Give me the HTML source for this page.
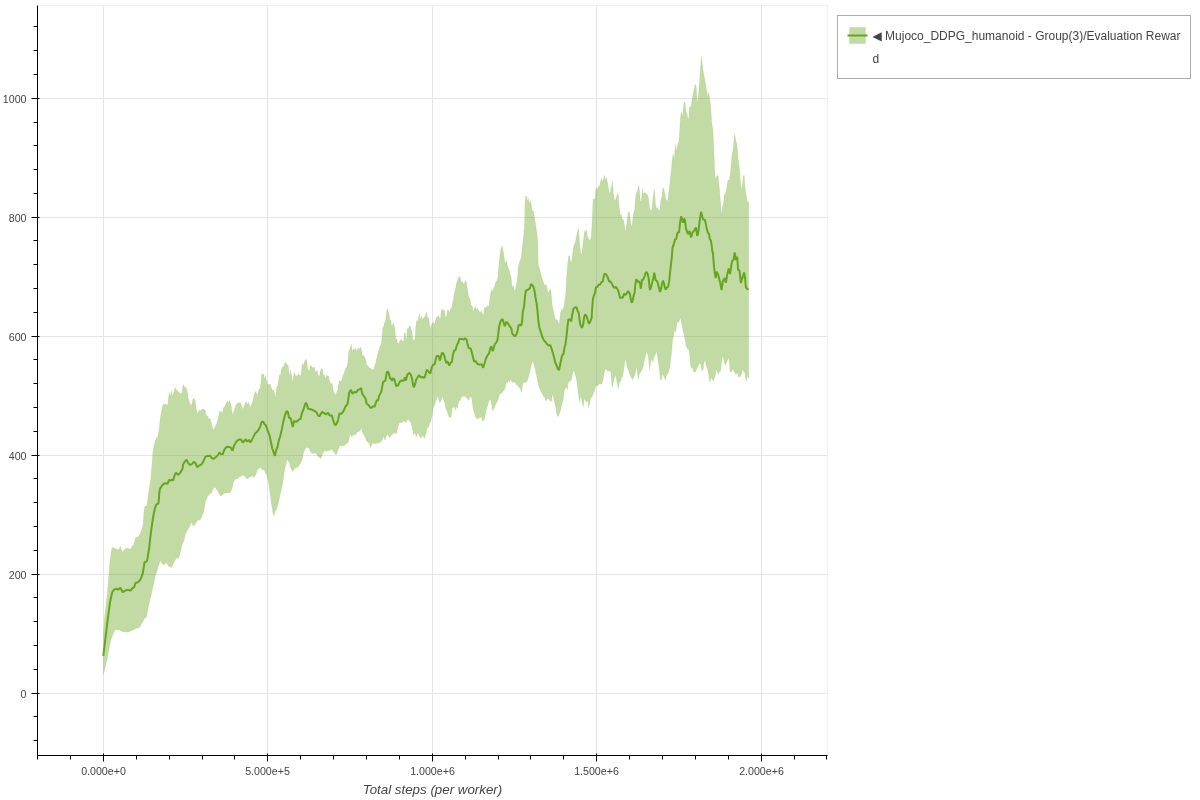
<!DOCTYPE html>
<html lang="en">
<head>
<meta charset="utf-8">
<title>Evaluation Reward</title>
<style>
html,body{margin:0;padding:0;background:#fff;}
body{width:1200px;height:800px;overflow:hidden;font-family:"Liberation Sans",Helvetica,Arial,sans-serif;}
svg{display:block;}
</style>
</head>
<body>
<svg width="1200" height="800" viewBox="0 0 1200 800">
<rect x="0" y="0" width="1200" height="800" fill="#fff"/>
<rect x="37.5" y="5.5" width="790.0" height="750.0" fill="#fff" stroke="#efefef" stroke-width="1"/>
<path d="M103.5 5.5V755.5M267.5 5.5V755.5M432.5 5.5V755.5M596.5 5.5V755.5M761.5 5.5V755.5M37.5 98.5H827.5M37.5 217.5H827.5M37.5 336.5H827.5M37.5 455.5H827.5M37.5 574.5H827.5M37.5 693.5H827.5" stroke="#e5e5e5" stroke-width="1" fill="none"/>
<path d="M103.5 634 L104.1 622 L106.5 600 L107.2 595 L108.75 576.25 L110 560.6 L111.25 551.25 L112.2 547.2 L113.75 548.1 L115.9 549.1 L116.9 548.75 L118.4 550 L119.4 548.75 L120.3 545.9 L121.25 548.75 L122.2 552.2 L123.75 550.3 L125.6 548.75 L127.5 548.1 L129.4 549.1 L130.6 549.4 L131.25 547.5 L132.5 545.6 L133.75 545.3 L135.4 537.5 L137.5 537.5 L140.6 533.1 L143.1 525 L144 511.25 L144.75 506.25 L146.9 506 L148.1 496.25 L150 483.75 L150.6 480 L151.9 465 L153.1 450 L155 441.25 L156.9 436.9 L157.6 437.5 L159.06 430 L160.3 417.5 L161.9 409.4 L163.1 404.1 L164.1 404.7 L165.3 403.4 L166.25 405 L167.8 404.7 L168.4 398.1 L169.4 392.2 L170.3 396.9 L171.4 390.6 L172.2 396.25 L173.4 393.4 L175.3 387.5 L176.9 390.6 L178.75 392.2 L180.6 393.75 L181.9 393.1 L182.8 386.25 L183.6 384.7 L184.7 387.5 L186.25 388.1 L187.5 392.5 L188.1 398.1 L190 403.75 L191.6 405.9 L192.8 399.4 L193.6 398.1 L195.3 400.9 L196.25 409.4 L197.4 413.75 L199.4 410 L200 410.9 L201.9 409.4 L203.4 409.1 L205.3 410.3 L205.9 415 L207.5 415.9 L208.75 418.75 L210.3 418.75 L211.25 423.1 L213.1 430 L214.7 428.1 L216.9 423.1 L218.75 415.6 L219.7 411.25 L220.6 410.9 L222.5 413.1 L223.4 408.1 L225 406.25 L226.25 402.8 L227.5 400.9 L228.4 403.4 L229.4 400.6 L230.6 403.1 L231.25 406.25 L232.5 415 L234.4 410 L235.9 405 L237.5 403.1 L240.3 402.8 L241.6 405 L242.5 409.4 L244.7 405 L245.3 402.2 L246.6 402.2 L247.5 405 L248.4 401.9 L249.4 405 L250 407.8 L251.25 405 L252.8 401.25 L254.1 394.4 L255.6 391.25 L256.9 394.4 L257.8 394.1 L259.1 389.1 L260 388.75 L260.9 383.1 L261.6 374.4 L263.1 374.1 L264.1 374.4 L264.5 379.1 L265.5 376.25 L266.25 380 L267.5 384.1 L268.75 384.7 L270 383.75 L271.25 387.5 L272.5 390.6 L273.4 389.7 L274.7 393.75 L275 398.75 L275.75 395.6 L276.4 388.1 L277.8 385.6 L278.75 378.75 L279.5 374.7 L280.3 376.25 L281.25 370.6 L282.2 367.2 L283.75 366.6 L284.7 362.8 L285.5 362.2 L286.6 363.75 L287.5 365 L288.4 365.9 L289.1 375 L290 373.75 L290.5 369.7 L291.25 373.75 L292.4 382.5 L293.4 376.9 L294.4 371.9 L295.3 375.6 L296.6 375.9 L297.5 375.6 L298.4 373.4 L299.4 375.6 L300 375.6 L301.25 374.4 L301.9 366.25 L302.5 363.1 L303.4 366.25 L304.4 361.6 L305.3 360 L306.25 359.1 L306.9 361.25 L307.5 367.5 L308.4 370.6 L309.4 370.9 L310.3 365 L311.25 366.25 L312.5 367.8 L313.4 367.5 L314.4 366.9 L315 371.25 L315.9 371.9 L317.2 370.3 L317.8 374.4 L318.75 375.9 L319.7 375.6 L320.3 370.9 L321.6 368.4 L322.5 369.1 L323.1 374.4 L324.4 375.3 L325.3 379.1 L326.6 375.6 L328.4 375.9 L329.4 380 L330.3 383.75 L331.6 383.1 L332.5 385 L333.1 390 L335.4 395 L337.8 390 L338.4 385 L339.4 380 L340.3 381.6 L341.6 380.6 L343.1 375.6 L344.7 371.25 L345.6 368.4 L346.9 366.9 L347.8 362.5 L348.75 351.9 L349.7 349.4 L350.6 347.2 L351.4 344.4 L352.2 351.9 L353.4 348.75 L354.4 350.3 L355.3 347.8 L356.25 351.25 L357.5 349.4 L358.4 347.8 L359.4 349.4 L360.5 346.9 L361.6 350.3 L362.2 355.6 L363.75 355.6 L365 358.1 L365.9 360 L366.6 365 L367.8 365.9 L368.75 367.2 L370.6 368.4 L372.5 369.7 L374.1 369.4 L374.4 366.25 L375 365 L375.6 363.1 L376.9 357.5 L378.3 351.5 L379.1 350 L380.6 345 L381.6 342.5 L382.2 333.75 L382.8 327.5 L383.75 326.25 L384.4 322.5 L385.3 321.9 L386.25 315.6 L386.9 310.6 L387.5 308.4 L388.4 311.6 L389.4 316.25 L390 319.7 L390.9 320.6 L391.6 326.25 L392.5 325 L393.3 322.8 L394.1 325.6 L394.7 327.5 L395.3 333.75 L395.9 338.75 L396.9 339.4 L397.5 342.5 L398.1 343.75 L399.1 342.5 L400 340.6 L401.25 339.1 L402.5 341.25 L403.75 340.9 L404.25 333.1 L405.3 332.5 L405.9 340 L406.6 338.75 L407.2 328.75 L408.4 328.4 L409.4 325.9 L410.3 325.9 L411.25 329.4 L412.2 333.1 L412.8 338.75 L413.4 340.3 L414.7 340.3 L415.3 335.6 L415.9 325.6 L416.6 320 L417.8 322.2 L418.75 316.9 L419.4 313.1 L420 318.75 L420.6 319.4 L421.4 315.6 L422.2 319.4 L423.4 318.1 L425 316.25 L426.4 312.2 L427.5 316.9 L428.75 318.4 L429.7 325 L430.3 328.1 L430.9 327.5 L431.6 324.1 L432.5 323.1 L433.4 321.9 L434.4 325.3 L435.3 321.25 L436.6 316.6 L437.5 317.2 L438.4 315.3 L439.4 318.1 L440.3 318.75 L441.25 311.25 L442.2 308.75 L443.1 310.9 L443.75 310.3 L444.5 310.3 L445.3 316.25 L446.6 316.9 L447.4 310.3 L448.4 310 L449.4 313.1 L450.5 308.75 L451.5 308.5 L452.2 304.4 L453.4 299.4 L454.1 293.75 L455.3 289.4 L456.6 283.1 L457.8 279.4 L458.4 277.2 L459.7 276.6 L460.6 278.75 L461.25 283.1 L462.3 280.9 L463.1 283.4 L464.4 283.4 L465.3 280.6 L466.25 281.6 L466.9 286.25 L467.8 291.9 L468.75 297.5 L470 298.4 L470.9 305 L472.2 305.9 L473.1 311.9 L474.1 310 L475.3 305.9 L476.25 310 L477.2 307.8 L478.4 310.6 L479.4 311.6 L480.3 312.8 L481.25 310.6 L482.5 313.75 L483.4 316.25 L484.1 308.75 L484.7 306.9 L485.9 307.8 L486.6 307.5 L487.3 305.3 L488.1 307.5 L489.1 305 L490 296.9 L490.9 291.25 L491.6 289.7 L492.5 291.25 L493.75 288.1 L494.7 286.25 L495.6 282.5 L496.9 280.6 L497.8 278.1 L498.4 270 L499.4 260 L500.6 250 L502.1 245.6 L503.5 252.5 L505 263.75 L506.5 260.6 L507.5 266.25 L509.1 270 L510.3 274.4 L511.25 278.1 L511.9 285.6 L512.5 288.1 L513.4 285.3 L514.4 290.6 L515.1 291 L516.25 284.4 L517.2 281.25 L517.8 273.75 L518.1 267.5 L519.4 262.5 L521.25 257.5 L523.1 240 L524.4 227.5 L524.7 215 L525 202.5 L525.6 196.6 L526.4 195.8 L527.2 200.9 L528.25 198.1 L529.25 204.1 L530.3 200.3 L531.25 204.4 L531.9 209.7 L533.4 211.6 L534.4 216.25 L535.3 222.5 L536.25 228.75 L536.9 233.75 L537.5 240 L537.75 242.5 L538.1 260 L538.3 264.4 L540 270.6 L541.25 275.6 L543.1 281.25 L544.4 285 L545 285.6 L545.9 284.1 L546.9 287.5 L548.1 292.5 L549.1 291.6 L550.3 289.1 L550.9 291.25 L551.6 297.5 L552.2 305 L553.75 312.5 L555.6 320 L556.9 319.4 L558.1 321.9 L559.4 324.4 L560.25 313.75 L561.9 308.75 L563.1 310 L564.4 303.75 L565.6 295 L566.2 286 L566.5 277.5 L567.2 270 L567.8 262.5 L568.4 256.9 L569.4 255.3 L570.3 260.6 L571.4 263.1 L572.2 256.9 L573.1 250.6 L574.1 244.4 L575.3 242.8 L576.25 236.9 L577.2 232.8 L578.3 228.2 L579.1 236.25 L580 246.9 L580.9 254.4 L581.9 253.1 L582.8 246.25 L583.75 238.1 L584.5 230.6 L585.5 232.5 L586.4 229.2 L587.2 234.4 L588.1 238.75 L589.4 239.4 L590.5 240.3 L591.25 236.25 L591.9 226.25 L592.3 218 L592.6 209.5 L593.1 198.9 L594.1 199.5 L595 198.25 L595.9 188.9 L596.9 188.25 L597.8 189.2 L598.4 186.1 L599.4 186.4 L600.3 182.6 L601.4 178.25 L602.5 182.3 L603.4 178.9 L604.4 175.1 L605.3 180.75 L606.4 177.3 L607.2 181.4 L608.1 184.5 L608.75 190.1 L609.5 194.5 L610.3 192 L611.25 187 L612.3 181.4 L612.8 186.4 L613.4 192.6 L614.1 198.25 L615 200.75 L616.25 198.25 L617.3 193.6 L618.4 195.1 L618.9 203.25 L619.7 210.75 L620.6 215.75 L621.4 214.8 L622.2 219.5 L623.4 219.5 L624.7 226.25 L625.5 232.8 L626.25 226.25 L626.9 222 L627.8 215.75 L628.4 212 L629.25 211.1 L630 217 L630.6 222 L631.6 227.3 L632.5 222 L633.4 213.9 L634.7 209.5 L635.3 199.5 L636.25 193.25 L637.5 190.75 L638.6 185.4 L639.4 189.5 L640 197 L640.6 202.6 L641.6 198.9 L642.4 188.25 L643.1 194.5 L644.1 192.6 L645.3 192.9 L646.9 194.2 L648.1 195.75 L648.75 200.75 L649.4 207 L650.3 210.1 L651.6 210.75 L652.2 205.75 L653.1 198.25 L653.75 192 L654.4 188.9 L655 197 L655.6 205.1 L656.6 208.9 L657.5 207.3 L658.4 209.5 L659.4 211.4 L660.3 205.75 L660.9 199.5 L661.9 197 L662.5 190.75 L663.25 187.3 L664.1 190.1 L665 193.9 L666 199.4 L667.5 201.25 L668.75 192.5 L669.1 190 L670.3 178.75 L671.25 169.4 L672.2 160.6 L672.8 155 L673.4 154.1 L674.25 161.25 L674.9 149.4 L675.3 144.4 L676.1 151.25 L676.9 148.1 L677.8 143.75 L678.75 142.5 L679.1 140 L679.7 130.6 L680.3 119.4 L680.9 113.75 L681.6 112.2 L682.4 118.1 L683.1 110.6 L683.75 104.4 L684.7 101.9 L685.3 105.6 L686.25 112.5 L687.2 114.4 L688.1 120.6 L688.75 117.5 L689.4 107.5 L690.6 106.6 L691.6 103.1 L692.5 96.9 L693.4 92.5 L694.4 88.1 L695.5 84.1 L696.25 87.5 L696.8 98 L697.4 103.1 L698 99.4 L699.1 87.5 L700 75 L700.6 65.6 L701.4 55.8 L702.2 62.5 L703.1 70.6 L704.4 77.5 L705.6 83.1 L706.6 90 L707.5 97.2 L708.4 92.2 L709.1 94.6 L709.7 99.4 L710.6 103.75 L711.25 115 L711.9 123.75 L712.8 128.75 L713.4 140 L713.6 140 L713.9 152.5 L714.4 161.9 L714.8 170.5 L715.4 179.6 L716.25 177.2 L717.3 175.1 L718.1 176 L718.75 182 L719.6 190.5 L720.6 202.5 L721.25 210.6 L721.9 215.6 L722.5 206.25 L723.4 204.4 L724.25 194.4 L725.6 193.75 L726.6 188.5 L727.5 182.2 L728.4 180 L729.7 179.4 L730.3 173.1 L731.25 163.75 L732.2 153.1 L732.8 151.25 L733.4 146.25 L734.1 139 L734.6 133.2 L735.3 137.5 L735.9 141 L736.6 143.1 L737.5 149.4 L738.1 158.75 L739.1 166.25 L739.7 170.5 L740.3 179.4 L740.9 186.9 L741.6 188.75 L742.5 184.4 L743.25 176.25 L744.1 175 L744.7 182.5 L745.6 192.5 L746.6 196.25 L747.2 201.25 L748.4 202.2 L748.75 202.5 L748.75 378.4 L747.8 376.25 L747.2 377.5 L746.4 381.6 L745.6 377.5 L744.7 371.9 L743.4 371.25 L742.5 368.75 L741.6 373.75 L740.3 376.6 L738.4 376.9 L737.2 372.5 L735.9 374.4 L734.7 372.5 L733.4 370.6 L732.2 369.1 L731.25 371.9 L730 371.9 L729.25 361.25 L728.4 357.2 L727.8 359.4 L726.6 362.5 L725.3 365.6 L724.1 361.25 L723.1 357.5 L722.2 356.9 L721.6 363.1 L720.6 371.25 L719.4 371.6 L718.4 374.4 L717.5 371.9 L716.6 368.75 L715.9 373.1 L714.7 377.5 L713.4 381.25 L712.5 379.4 L711.25 377.5 L710.1 381.25 L709.4 381.25 L708.4 373.75 L707.2 368.1 L706.25 366.25 L705.3 360.6 L704.25 361.25 L703.4 368.1 L702.5 371.25 L701.6 369.1 L700.6 363.75 L699.4 363.4 L698.1 366.25 L696.6 369.1 L695.3 372.5 L693.4 371.25 L692.4 366.9 L691.6 368.4 L690.6 366.25 L690 358.1 L689.1 350 L687.5 348.75 L686.25 346.9 L685.3 341.25 L684.4 336.5 L683.1 331.25 L681.9 325 L680.4 317.5 L678.5 323.1 L677.25 321.25 L675.6 332.5 L674.4 330 L673.75 335 L672.5 340.6 L672.2 345 L671.6 352.5 L670.6 360.6 L669.7 368.1 L668.4 372.8 L667.2 374.1 L666.25 376.25 L665.5 380.6 L664.4 378.1 L663.1 375 L662.2 373.75 L661.6 379.4 L660.3 379.7 L659.7 372.5 L658.75 365 L657.5 356.9 L656.7 351.6 L655.9 353.1 L655 355.6 L653.75 357.5 L653.1 362.5 L652.2 359.7 L651.25 360 L650.3 365 L649.6 370.3 L648.75 361.25 L648.1 355 L647.2 353.75 L646.4 351.25 L645.3 356.9 L644.4 360.6 L643.1 366.9 L641.9 370 L640.6 372.5 L639.4 373.75 L638.4 379.7 L637.5 373.1 L636.6 365.9 L635.9 370 L635 375 L633.75 377.2 L632.5 379.7 L630.9 376.6 L629.4 373.4 L628.4 370 L627.2 367.5 L626.25 363.1 L625.3 358.1 L624.7 363.1 L623.75 370 L622.5 376.9 L621.6 377.5 L620.6 381.25 L619.4 382.5 L618.4 388.75 L617.5 385.6 L616.6 380.6 L615.3 374.7 L613.75 380.6 L612.5 386.6 L611.9 386.25 L611.25 377.5 L610.6 370.9 L608.75 371.25 L606.9 370.6 L605.3 368.75 L604.4 371.9 L603.1 379.4 L601.9 384.4 L600 383.4 L598.75 384.4 L597.5 386.25 L596.25 385 L595.3 388.1 L593.75 392.5 L592.2 396.25 L590.6 398.75 L589.7 403.1 L588.6 407.5 L587.8 400.6 L586.9 401.9 L585.6 401.25 L584.25 398.1 L583.4 406.9 L582.2 403.1 L581.25 397.5 L580.5 396.25 L579.6 402.8 L578.75 396.9 L577.8 389.4 L576.9 381.9 L575.9 376.9 L574.7 372.5 L573.4 370.3 L572.5 374.4 L571.6 379.4 L569.7 381.25 L568.1 383.1 L567.4 389.7 L566.6 386.9 L565.6 388.1 L564.5 390.6 L563.75 395.6 L563 400.5 L561.9 404.25 L560.75 409.5 L559.6 413.25 L558.5 415.5 L557.6 416.8 L556.8 414.4 L555.9 408.75 L554.75 403.1 L553.5 397.5 L552.3 393.75 L551.6 401.25 L550.3 401.25 L548.75 399.1 L547.2 398.75 L545.9 401.25 L545 397.5 L543.75 396.6 L542.2 393.75 L540.6 390.6 L539.1 387.5 L537.5 380 L535.9 373.1 L534.7 366.9 L533.4 363.1 L532.4 361.25 L531.25 365.6 L530 371.25 L528.4 377.5 L526.9 381.9 L525 382.2 L524.1 382.5 L523.1 383.1 L522.2 388.1 L521.4 392.5 L520.3 388.75 L519.1 387.5 L517.8 385.6 L516.6 385.3 L515.6 383.1 L514.4 382.2 L512.8 382.5 L511.6 380.9 L510.3 379.4 L509.4 381.9 L508.4 380.3 L507.8 382.5 L506.6 382.2 L505.6 385.6 L504.7 389.4 L503.1 391.25 L501.6 393.4 L500 393.75 L498.75 396.9 L497.5 401.25 L495.9 403.75 L494.7 406.9 L493.75 408.75 L492.8 411.25 L492 408.1 L491.25 402.5 L490.6 400 L489.4 400.3 L488.4 402.5 L487.5 406.25 L486.25 410 L485.3 415 L484.4 419.4 L483.4 420 L482.5 421.6 L481.6 416.6 L480.6 417.8 L479.4 417.5 L478.1 419.1 L476.25 418.1 L475 415.6 L474.1 412.5 L473.1 408.75 L472.2 402.5 L471.6 397.2 L470.6 396.6 L469.4 398.4 L468.1 400.6 L467.2 398.1 L465.9 397.2 L464.4 395.9 L462.8 396.6 L461.25 396.9 L460.5 400 L459.4 400.6 L458.4 403.1 L457.4 408.75 L456.25 406.25 L455.3 410.6 L454.4 406.9 L453.4 407.5 L452.2 408.75 L451.25 416.25 L450 417.8 L449.1 417.2 L447.5 412.5 L445.9 408.4 L444.7 403.1 L443.4 399.1 L442.5 396.6 L441.25 400 L440 402.8 L439.4 401.9 L438.4 397.5 L437.5 395.9 L436.25 400.3 L435 403.75 L433.4 407.5 L432.5 412.5 L431.9 416.9 L430.9 420.9 L429.7 423.1 L428.4 427.5 L427.8 426.9 L426.6 430 L425.6 435 L424.4 438.4 L422.5 435 L421.25 438.1 L419.4 436.25 L418.1 432.5 L417.2 434.7 L416.25 436.9 L415 432.5 L413.75 435 L412.8 430.6 L411.9 426.25 L410.9 422.8 L409.7 420.9 L408.4 419.4 L406.9 420.6 L405.6 422.8 L404.4 421.25 L403.4 420.9 L401.9 422.8 L400.3 422.2 L399.1 423.75 L398.1 426.25 L397.2 430 L396.25 434.1 L395 432.8 L393.75 433.1 L392.2 434.7 L390.6 435.9 L389.4 437.8 L388.1 434.4 L386.9 435 L385.6 438.75 L384.7 440 L383.4 436.25 L382.8 438.75 L381.9 440.6 L380.3 442.5 L379.1 441.9 L377.8 443.75 L376.6 443.1 L375 444.1 L374.1 443.4 L372.8 443.1 L371.6 445 L370.6 447.8 L369.4 443.4 L367.8 442.2 L366.25 440.6 L365 436.6 L363.4 434.4 L362.5 431.9 L361.6 428.1 L360.3 430.6 L359.1 431.6 L357.2 431.9 L355.3 435 L353.1 434.7 L351.9 436.9 L350.6 434.7 L349.7 435 L349.1 438.75 L348.4 442.2 L346.6 443.4 L345 445 L343.4 446.25 L342.5 445.3 L341.6 446.6 L340.6 445.6 L339.1 446.9 L337.8 450.6 L336.9 453.75 L336.1 455 L335 453.75 L333.75 451.9 L332.2 450 L330.9 449.1 L329.4 450.9 L328.1 450.3 L326.6 451.6 L325 450.6 L323.75 451.9 L322.5 453.75 L321.6 456.9 L320.6 458.75 L319.1 456.9 L317.5 455.9 L316.25 454.1 L315 452.8 L313.4 453.75 L311.6 453.1 L310.3 451.25 L309.1 448.1 L307.8 447.8 L306.25 447.2 L304.7 450 L303.4 453.1 L302.5 458.75 L301.25 461.25 L300 464.1 L299.1 465.6 L297.5 467.5 L295.6 468.1 L294.4 469.1 L292.8 471.6 L291.6 469.4 L290.3 466.9 L289.4 462.8 L288.1 461.25 L287.4 458.75 L285.9 464.4 L284.7 469.4 L283.75 475.6 L282.8 483.1 L281.5 489 L279.5 498 L277.5 506.5 L276 510 L275 511.5 L274.25 515.75 L273.75 515.75 L272.75 512 L271.5 504 L270 492.5 L268.3 481 L267.5 478.75 L266.6 474.4 L265.3 473.1 L264.1 470 L262.2 469.7 L261.25 468.4 L260.3 467.2 L258.75 468.75 L257.2 470 L256.25 473.4 L254.7 476.25 L253.25 477.8 L252.5 475.3 L251.25 476.6 L249.4 477.2 L247.8 478.75 L246.25 478.4 L245 476.25 L243.4 475.3 L241.25 475.9 L239.1 476.9 L237.5 478.75 L235.9 479.1 L234.4 480.3 L233.1 483.1 L232.5 486.9 L231.6 489.4 L230.6 491.9 L229.4 493.1 L227.5 492.8 L225 493.1 L223.75 493.75 L222.2 495.3 L220.6 495.9 L219.1 493.75 L217.5 490.6 L215.9 488.4 L214.4 486.9 L212.8 489.4 L211.6 493.1 L210 493.4 L208.4 495.6 L206.9 497.5 L205.6 501.25 L204.7 506.25 L203.75 511.25 L202.5 515 L201.25 518.1 L199.4 520.6 L198.4 519.4 L196.9 521.25 L195.9 523.1 L194.7 525 L193.1 525.7 L192.3 524 L191.25 522.3 L190.3 525 L189.1 527.5 L187.5 530 L186.25 532.5 L185 535.6 L184.1 540.6 L182.8 543.1 L181.9 545.6 L180.6 551.25 L179.7 555 L178.75 558.1 L177.8 558.4 L176.6 557.8 L175.3 560 L174.1 561.9 L172.5 565.6 L171.4 567.8 L170.3 566.6 L169.4 566.9 L167.8 565 L166.6 562.5 L165.3 563.75 L163.4 565 L161.6 563.1 L160.3 560.3 L159.7 562.5 L158.4 566.25 L156.9 571.25 L155 577.5 L153.1 586.25 L151.25 595 L150 599.5 L147.5 611 L146.7 617.5 L145.5 617 L142 623 L139.5 627.5 L136 628.5 L133 630 L128 632.2 L123 631.8 L119 630 L115 629.8 L112.5 635.5 L110.5 641 L107 660 L103.5 674.5Z" fill="#66a61e" fill-opacity="0.4" stroke="#66a61e" stroke-opacity="0.1" stroke-width="1" stroke-linejoin="bevel"/>
<path d="M103.3 656 L107.5 621.25 L110 602.5 L111.6 595 L112.5 591.6 L114.4 589.4 L116.6 588.75 L118.4 589.7 L120.3 587.8 L121.6 590 L122.8 592.2 L124.7 590.9 L126.9 590 L128.75 590 L130.6 590.6 L132.2 588.4 L134.1 587.2 L135.6 582.8 L137.5 582.5 L139.4 580.9 L141.25 577.8 L142.8 573.1 L143.75 567.5 L144.5 562.2 L146.25 561.6 L147.2 560.6 L148.1 554.4 L149.1 548.75 L150 540 L151.25 530 L152.5 521.25 L153.75 513.75 L155 508.1 L156.25 504.7 L158.4 503.4 L158.9 499 L159.2 493.75 L160 488.75 L161.6 486.25 L163.1 484.4 L165 483.1 L167.5 483.75 L169.1 480 L170.6 480.6 L171.9 479.4 L173.1 480.6 L174.7 475 L175.9 472.8 L178.4 475 L180.6 472.2 L182.5 468.75 L183.1 464.4 L184.4 462.2 L186.6 459.7 L188.1 463.1 L189.7 464.7 L191.9 464.1 L193.75 461.9 L195.3 462.8 L197.2 467.2 L199.1 465.6 L201.25 464.7 L203.1 461.9 L205.3 456.9 L207.5 455.9 L210 455.75 L211.6 457.9 L213.4 458.9 L215.6 457.3 L217.5 455.75 L219.4 452.6 L220.9 453.9 L222.8 454.2 L224.1 450.1 L225.6 447.9 L227.5 446.7 L229.7 447 L231.25 448.25 L232.5 450.75 L233.75 446.4 L235.6 442.6 L237.8 440.1 L240.3 439.2 L241.6 440.4 L242.8 442.6 L244.4 440.75 L245.6 439.2 L247.2 441.7 L248.75 439.8 L250.3 442.6 L251.6 440.4 L253.1 437.6 L255 433.6 L257.2 431.7 L258.75 429.5 L260.3 426.4 L261.6 422 L263.4 421.7 L264.7 424.5 L265.9 425.4 L267.5 430.1 L269.7 435.75 L270.9 442 L272.2 448.25 L273.4 452 L275 455.8 L275.9 450.75 L277.5 447 L278.75 440.75 L280.3 435.75 L281.9 428.9 L283.4 421.4 L285 415.1 L286.2 412 L287.2 410.9 L288.1 413.1 L289.1 418.1 L290.6 418.1 L291.6 421.9 L292.7 426.9 L294.1 420.9 L296.25 421.9 L298.75 419.7 L300.6 418.75 L301.9 413.1 L303.4 409.7 L305 404.4 L306.1 402.8 L307.2 405.3 L307.8 408.4 L309.4 409.4 L310.6 409.1 L312.5 410 L314.4 410.9 L316.6 412.5 L318.1 415.6 L319.4 416.25 L320.6 414.4 L322.2 411.9 L324.1 413.1 L325.9 414.4 L328.1 412.8 L329.7 415.6 L331.9 415.6 L333.1 420 L334.4 423.75 L335.3 425.3 L336.9 423.1 L338.1 420 L339.4 413.4 L341.6 413.75 L343.75 410.6 L345.3 406.9 L347.5 404.1 L348.1 400.6 L349.1 393.1 L350.9 389.8 L352.5 393.75 L354.4 391.9 L356.25 392.5 L357.8 390 L359.7 389.4 L361.1 388.1 L362.2 393.75 L363.75 395.9 L365.6 398.75 L366.6 403.75 L368.75 405.3 L370.3 407.8 L371.6 407.8 L373.1 406.25 L374.7 406.6 L375.9 402.5 L376.9 400 L377.8 400.9 L379.1 395.9 L381.25 391.9 L382.2 386.9 L383.1 381.9 L385.3 380.9 L386.25 375.6 L386.9 371.9 L388.1 371.6 L389.1 374.4 L390 378.1 L391.6 379.4 L392 380.9 L393.1 378.1 L394.4 379.4 L395.3 383.1 L396.25 386.25 L398.1 385.3 L399.7 381.9 L400.9 380.6 L402.8 380.9 L404.1 380 L404.9 377.2 L405.9 380.6 L407.2 375 L409.1 372.8 L410.9 374.7 L412.2 379.4 L413.1 385 L413.9 387.5 L415 384.4 L416.25 379.4 L417.5 377.5 L419.1 375 L420.6 377.2 L422.5 376.9 L424.1 377.8 L425 376.9 L425.6 374 L426.9 369.7 L428.4 371.6 L430.3 373.4 L431.6 368.1 L432.8 365 L434.7 364.4 L435.9 358.75 L436.9 355.6 L438.75 356.25 L440 360.6 L441.25 355 L442.5 352.5 L444.1 355 L445 358.75 L446.25 363.1 L447.5 361.25 L449.25 365.6 L450.3 363.1 L451.9 361.9 L452.8 355.6 L454.1 350.6 L455.6 350 L456.9 345 L458.1 343.1 L459.4 338.75 L461.25 339.1 L462.5 339.1 L463.9 339.7 L465 338.1 L466.6 339.7 L467.5 343.75 L468.6 348.1 L470.6 348.4 L471.9 352.8 L473.1 357.5 L474.1 361.6 L475.9 361.25 L477.2 363.75 L479.4 364.7 L481.6 364.1 L483.1 367.8 L484.4 363.75 L485.9 358.75 L487.5 355.3 L489.1 353.4 L490.3 348.1 L491.25 346.25 L492.8 351.25 L493.75 347.5 L495 343.75 L495.9 343.1 L497.5 340 L498.4 332.5 L499.2 326.5 L499.7 324.2 L500.9 320.6 L502.5 319.1 L503.4 321.9 L504.2 324.6 L504.8 326.2 L506.25 321.8 L508 323.6 L509.6 326.2 L511.3 328.4 L512.2 333.4 L513.4 335 L514.9 336.25 L516.25 334.7 L517.5 331.2 L518.4 326 L520 324.3 L521.25 325.8 L522.2 320.5 L522.8 311.9 L524.1 306.25 L525 296.25 L525.9 290.3 L527.2 290.3 L528.4 289.4 L530 288.1 L530.9 284.1 L532.5 285.3 L533.75 287.5 L534.7 291.9 L535.6 298.1 L536.9 305 L537.5 311.25 L538.4 321.5 L539.5 328 L541.25 333.4 L542.5 337.5 L544.1 340.6 L545.9 342.5 L547.5 344.7 L548.75 345.6 L550.3 345 L551.6 348.75 L552.8 352.5 L554.1 357.5 L555.3 362.5 L556.9 366.25 L558.1 369.4 L559.1 370 L560.3 363.75 L561.6 357.5 L562.5 354.7 L563.4 354.4 L564.4 348.1 L565.4 344.5 L566.6 335.6 L567.5 326.25 L568.4 319.4 L569.7 319.4 L571.25 321.25 L572.2 315 L573.4 308.75 L575 307.5 L576.6 307.2 L577.5 310.6 L578.75 313.1 L579.7 321.25 L580.6 325.6 L581.9 327.8 L583.1 325 L584.1 317.5 L585 314.4 L586.6 316.25 L587.8 320.6 L589.1 323.75 L590.3 321.25 L591.6 318.1 L592.2 308.5 L592.9 299.5 L593.75 295.8 L595 293 L595.9 287.4 L597.5 286.75 L598.75 284.6 L600 284.9 L601.25 282.4 L602.8 281.4 L603.9 275.5 L604.7 273.6 L606.25 274.6 L607.8 277.4 L609.1 281.4 L610.3 281.4 L611.6 283.3 L613.4 286.75 L614.7 288 L615.9 286.75 L617.5 289.25 L618.75 292.4 L620 298 L621.6 297.4 L622.8 297.7 L624.1 293.6 L625.6 294.9 L626.9 293 L628.1 291.1 L629.7 293.6 L630 294.4 L630.9 300 L631.9 302.8 L632.8 300 L633.75 295 L634.7 292.5 L635.3 285 L636.25 279.1 L637.5 281.9 L639.1 281.25 L640 283.75 L640.9 288.75 L641.9 280 L643.1 279.7 L644.4 276.9 L645.6 273.1 L646.6 271.9 L647.8 274.4 L648.75 278.75 L649.4 285.6 L650 290 L650.9 287.5 L652.2 282.5 L653.4 277.5 L654.25 272.8 L655 276.25 L655.6 280 L657.2 281.25 L658.4 285.6 L660 291.9 L661.25 288.1 L662.2 283.1 L663 280.6 L664.1 283.75 L665 288.1 L665.9 289.7 L666.9 287.5 L668.1 286.9 L669.1 281.9 L670 273.1 L670.9 265 L671.9 256.5 L672.5 248.1 L673.75 244.4 L675 239.4 L676.25 239.1 L677.2 233.75 L678.1 232.2 L679.1 232.5 L680 223.1 L681.1 216.4 L682.2 219.1 L683.1 222.8 L684.1 218.4 L685 220.3 L685.9 228.1 L686.9 231.25 L688.1 234.1 L689.5 230.9 L691.1 237.5 L692.5 232.5 L694.4 230.3 L695.9 227.5 L697.2 235.8 L698.1 233.75 L699.1 225.6 L700 218.75 L701.1 211.8 L702.2 216.25 L703.1 219.4 L705 220 L705.9 224.4 L706.9 229.4 L707.8 232.5 L709.1 234.1 L709.7 238.75 L710.9 240.6 L711.9 246.9 L712.2 250.6 L713 253.75 L713.6 261.9 L714.4 270 L715.6 278.1 L716.9 271.6 L718.4 275.6 L720 281.9 L721.6 290 L722.8 281.25 L724.7 278.1 L725.9 282.8 L727.2 274.4 L728.75 268.4 L730 274.1 L731.6 263.75 L732.2 260.6 L733.4 260.3 L734.7 252.5 L735.9 260 L737.2 256.6 L738.1 270 L739.4 270.3 L740.9 283.1 L742.5 277.5 L744.1 272.5 L745 277.5 L745.9 287.5 L747.2 288.75 L748.6 289.7" fill="none" stroke="#66a61e" stroke-width="2" stroke-linejoin="bevel" stroke-linecap="butt"/>
<path d="M37.5 5.5V756.0M37.0 755.5H827.5M33.5 740.5H37.5M33.5 716.5H37.5M31.5 693.5H39.5M33.5 669.5H37.5M33.5 645.5H37.5M33.5 621.5H37.5M33.5 597.5H37.5M31.5 574.5H39.5M33.5 550.5H37.5M33.5 526.5H37.5M33.5 502.5H37.5M33.5 478.5H37.5M31.5 455.5H39.5M33.5 431.5H37.5M33.5 407.5H37.5M33.5 383.5H37.5M33.5 359.5H37.5M31.5 336.5H39.5M33.5 312.5H37.5M33.5 288.5H37.5M33.5 264.5H37.5M33.5 240.5H37.5M31.5 217.5H39.5M33.5 193.5H37.5M33.5 169.5H37.5M33.5 145.5H37.5M33.5 122.5H37.5M31.5 98.5H39.5M33.5 74.5H37.5M33.5 50.5H37.5M33.5 26.5H37.5M37.5 755.5V759.5M70.5 755.5V759.5M103.5 753.5V761.5M136.5 755.5V759.5M169.5 755.5V759.5M202.5 755.5V759.5M234.5 755.5V759.5M267.5 753.5V761.5M300.5 755.5V759.5M333.5 755.5V759.5M366.5 755.5V759.5M399.5 755.5V759.5M432.5 753.5V761.5M465.5 755.5V759.5M498.5 755.5V759.5M530.5 755.5V759.5M563.5 755.5V759.5M596.5 753.5V761.5M629.5 755.5V759.5M662.5 755.5V759.5M695.5 755.5V759.5M728.5 755.5V759.5M761.5 753.5V761.5M794.5 755.5V759.5M826.5 755.5V759.5" stroke="#000" stroke-width="1" fill="none"/>
<g font-family="'Liberation Sans', Helvetica, Arial, sans-serif" font-size="10.667px" fill="#444">
<text x="26.5" y="103.0" text-anchor="end">1000</text>
<text x="26.5" y="222.0" text-anchor="end">800</text>
<text x="26.5" y="341.0" text-anchor="end">600</text>
<text x="26.5" y="460.0" text-anchor="end">400</text>
<text x="26.5" y="579.0" text-anchor="end">200</text>
<text x="26.5" y="698.0" text-anchor="end">0</text>
<text x="103.5" y="775" text-anchor="middle">0.000e+0</text>
<text x="267.5" y="775" text-anchor="middle">5.000e+5</text>
<text x="432.5" y="775" text-anchor="middle">1.000e+6</text>
<text x="596.5" y="775" text-anchor="middle">1.500e+6</text>
<text x="761.5" y="775" text-anchor="middle">2.000e+6</text>
</g>
<text x="432.5" y="793.7" text-anchor="middle" font-family="'Liberation Sans', Helvetica, Arial, sans-serif" font-size="13.333px" font-style="italic" fill="#444">Total steps (per worker)</text>
<rect x="837.5" y="15.5" width="353" height="63" fill="#fff" stroke="#adadad" stroke-width="1"/>
<rect x="849.5" y="27.5" width="16" height="16" fill="#66a61e" fill-opacity="0.4" stroke="#66a61e" stroke-opacity="0.12" stroke-width="1"/>
<path d="M847.5 35.5H867.5" stroke="#66a61e" stroke-width="2" fill="none"/>
<g font-family="'Liberation Sans', 'DejaVu Sans', Helvetica, Arial, sans-serif" font-size="12px" fill="#444">
<text x="872.5" y="39.7">◀ Mujoco_DDPG_humanoid - Group(3)/Evaluation Rewar</text>
<text x="872.5" y="62.7">d</text>
</g>
</svg>
</body>
</html>
